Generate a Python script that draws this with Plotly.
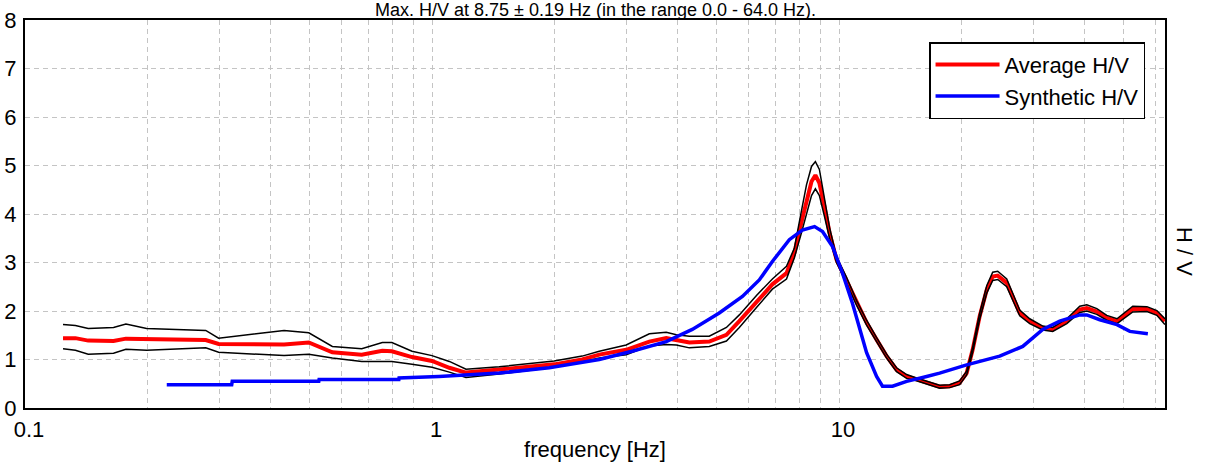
import plotly.graph_objects as go

# ---- data ----
freq_avg = [0.124, 0.133, 0.143, 0.165, 0.177, 0.199, 0.278, 0.299, 0.433, 0.498,
            0.569, 0.672, 0.755, 0.797, 0.893, 1.0, 1.103, 1.212, 1.462, 1.762,
            1.996, 2.339, 2.576, 3.0, 3.42, 3.763, 3.984, 4.29, 4.80, 5.29,
            5.69, 6.27, 6.86, 7.43, 7.77, 8.08, 8.32, 8.56, 8.75, 8.95,
            9.21, 9.48, 9.86, 10.43, 11.04, 11.69, 12.37, 13.09, 13.85, 14.66,
            15.51, 16.05, 16.98, 17.67, 18.70, 19.79, 20.59, 21.30, 22.16, 23.07,
            23.86, 24.55, 25.83, 26.72, 27.80, 29.42, 31.67, 33.51, 36.28, 39.05,
            40.63, 43.0, 45.5, 48.2, 52.7, 57.1, 60.4, 63.2]

hv_avg = [1.44, 1.44, 1.39, 1.38, 1.43, 1.42, 1.40, 1.32, 1.31, 1.35,
          1.15, 1.10, 1.18, 1.17, 1.05, 0.97, 0.83, 0.73, 0.79, 0.85,
          0.90, 1.00, 1.10, 1.20, 1.37, 1.44, 1.41, 1.35, 1.37, 1.51,
          1.79, 2.20, 2.55, 2.78, 3.20, 3.82, 4.29, 4.67, 4.80, 4.64,
          4.15, 3.61, 3.06, 2.64, 2.17, 1.76, 1.41, 1.07, 0.79, 0.65,
          0.59, 0.55, 0.48, 0.44, 0.45, 0.52, 0.72, 1.20, 1.89, 2.44,
          2.71, 2.73, 2.58, 2.30, 1.96, 1.79, 1.65, 1.62, 1.79, 2.03,
          2.06, 1.99, 1.86, 1.79, 2.04, 2.04, 1.96, 1.79]

hv_upper = [1.72, 1.70, 1.64, 1.66, 1.73, 1.64, 1.60, 1.44, 1.60, 1.55,
            1.27, 1.22, 1.35, 1.35, 1.17, 1.08, 0.96, 0.80, 0.85, 0.92,
            0.97, 1.07, 1.17, 1.30, 1.53, 1.56, 1.51, 1.48, 1.48, 1.66,
            1.92, 2.32, 2.66, 2.92, 3.30, 4.05, 4.60, 4.98, 5.08, 4.92,
            4.35, 3.72, 3.12, 2.70, 2.22, 1.81, 1.45, 1.11, 0.83, 0.69,
            0.62, 0.58, 0.51, 0.47, 0.48, 0.56, 0.76, 1.25, 1.95, 2.52,
            2.80, 2.82, 2.66, 2.37, 2.02, 1.84, 1.69, 1.66, 1.84, 2.10,
            2.13, 2.05, 1.91, 1.84, 2.10, 2.09, 2.01, 1.84]

hv_lower = [1.22, 1.19, 1.11, 1.13, 1.21, 1.19, 1.24, 1.15, 1.08, 1.11,
            1.03, 0.96, 0.96, 0.96, 0.90, 0.84, 0.74, 0.63, 0.70, 0.78,
            0.84, 0.95, 1.03, 1.10, 1.28, 1.31, 1.30, 1.24, 1.27, 1.38,
            1.66, 2.07, 2.45, 2.66, 3.10, 3.60, 4.00, 4.38, 4.52, 4.38,
            3.95, 3.50, 3.00, 2.58, 2.12, 1.71, 1.37, 1.03, 0.75, 0.61,
            0.56, 0.52, 0.45, 0.41, 0.42, 0.48, 0.68, 1.15, 1.83, 2.37,
            2.63, 2.65, 2.50, 2.23, 1.90, 1.74, 1.61, 1.58, 1.74, 1.97,
            2.00, 1.93, 1.81, 1.74, 1.98, 1.99, 1.91, 1.72]

freq_syn = [0.223, 0.322, 0.323, 0.527, 0.528, 0.829, 0.83, 1.04, 1.462, 1.94,
            2.576, 3.10, 3.763, 4.36, 5.08, 5.79, 6.37, 6.86, 7.55, 8.13,
            8.71, 9.11, 9.64, 10.20, 10.79, 11.23, 11.69, 12.37, 12.79, 13.54,
            14.66, 16.42, 17.67, 20.59, 24.82, 28.28, 31.67, 34.86, 39.05, 40.63,
            43.74, 48.2, 51.83, 57.4]
hv_syn = [0.48, 0.48, 0.55, 0.55, 0.59, 0.59, 0.62, 0.65, 0.72, 0.83,
          1.00, 1.17, 1.37, 1.62, 1.96, 2.30, 2.64, 3.02, 3.47, 3.67,
          3.74, 3.64, 3.33, 2.78, 2.16, 1.68, 1.14, 0.65, 0.45, 0.45,
          0.55, 0.65, 0.72, 0.89, 1.07, 1.27, 1.62, 1.79, 1.92, 1.92,
          1.82, 1.72, 1.58, 1.53]

x_tickvals = [0.1, 1, 10]
x_ticktext = ["0.1", "1", "10"]
x_minor = [0.2, 0.3, 0.4, 0.5, 0.6, 0.7, 0.8, 0.9,
           2, 3, 4, 5, 6, 7, 8, 9,
           20, 30, 40, 50, 60]
y_tickvals = [0, 1, 2, 3, 4, 5, 6, 7, 8]

title_text = "Max. H/V at 8.75 ± 0.19 Hz (in the range 0.0 - 64.0 Hz)."

FONT = "Liberation Sans, Arial, sans-serif"
GRID = "#c4c4c4"
DASH = "5px,4px"
FS = 22

fig = go.Figure()
fig.add_trace(go.Scatter(x=freq_avg, y=hv_avg, mode="lines", name="Average H/V",
                         line=dict(color="#ff0000", width=4)))
fig.add_trace(go.Scatter(x=freq_avg, y=hv_upper, mode="lines", showlegend=False,
                         line=dict(color="#000000", width=1.5), hoverinfo="skip"))
fig.add_trace(go.Scatter(x=freq_avg, y=hv_lower, mode="lines", showlegend=False,
                         line=dict(color="#000000", width=1.5), hoverinfo="skip"))
fig.add_trace(go.Scatter(x=freq_syn, y=hv_syn, mode="lines", name="Synthetic H/V",
                         line=dict(color="#0000ff", width=3.5)))

fig.update_layout(
    width=1206, height=464,
    margin=dict(l=25, r=41, t=20, b=56, autoexpand=False),
    plot_bgcolor="white", paper_bgcolor="white",
    font=dict(family=FONT, size=FS, color="black"),
    showlegend=True,
    legend=dict(x=0.9825, xanchor="right", y=0.943, yanchor="top",
                bgcolor="white", bordercolor="black", borderwidth=1.5,
                font=dict(size=FS, family=FONT), tracegroupgap=0,
                itemwidth=64),
    xaxis=dict(type="log", range=[-1, 1.801], automargin=False,
               tickmode="array", tickvals=x_tickvals, ticktext=x_ticktext,
               showgrid=True, gridcolor=GRID, gridwidth=1, griddash=DASH,
               minor=dict(tickmode="array", tickvals=x_minor, showgrid=True,
                          gridcolor=GRID, gridwidth=1, griddash=DASH, ticks=""),
               showline=True, linecolor="black", linewidth=2, mirror=True,
               ticks="", zeroline=False, ticklabelstandoff=1, ticklabelshift=4,
               title=dict(text="frequency [Hz]", standoff=0,
                          font=dict(size=FS, family=FONT))),
    yaxis=dict(range=[0, 8], tickmode="array", tickvals=y_tickvals, automargin=False,
               showgrid=True, gridcolor=GRID, gridwidth=1, griddash=DASH,
               showline=True, linecolor="black", linewidth=2, mirror=True,
               ticks="", zeroline=False, ticklabelstandoff=2),
    annotations=[
        dict(text="H / V", xref="paper", yref="paper", x=1.0175, y=0.402,
             showarrow=False, textangle=90, font=dict(size=FS, family=FONT),
             xanchor="center", yanchor="middle"),
        dict(text=title_text, xref="paper", yref="paper", x=0.5, y=1.0265,
             showarrow=False, font=dict(size=18, family=FONT),
             xanchor="center", yanchor="middle"),
    ],
)

fig.write_html("out.html",
               config={"displayModeBar": False},
               post_script="document.body.style.margin='0';document.body.style.overflow='hidden';")
